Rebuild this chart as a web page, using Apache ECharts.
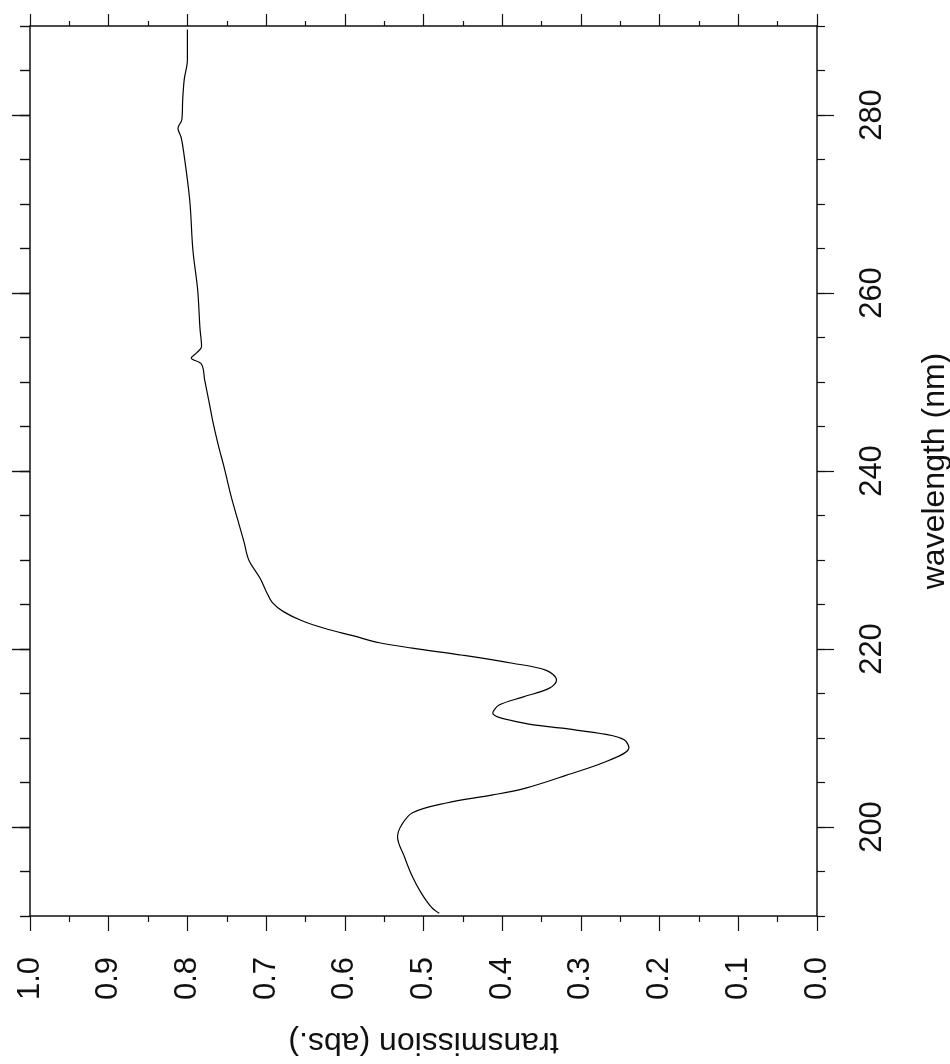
<!DOCTYPE html>
<html>
<head>
    <meta charset="utf-8">
    <title>transmission spectrum</title>
    <script src="https://cdn.jsdelivr.net/npm/echarts@6/dist/echarts.min.js"></script>
    <style>
        body { margin: 0; background: #fff; }
        #chart { width: 950px; height: 1064px; }
    </style>
</head>
<body>
<div id="chart"></div>
<script type="text/javascript">
    // wavelength (nm) and transmission (abs.)
    var wavelength = [190.3, 191, 192.6, 194.4, 196.6, 198.9, 200.2, 201.6, 202.7, 203.6,
        204.4, 205.8, 207.5, 208.9, 209.8, 210.4, 211.1, 211.7, 212.8, 213.7,
        214.6, 215.6, 216.5, 217.6, 218.4, 219.3, 220.1, 220.7, 221.5, 222.3,
        223.2, 224.2, 225.2, 226.5, 228, 230, 232, 234.5, 237, 240.3,
        243, 245.7, 248, 250.2, 252, 252.7, 253.3, 254, 256, 260.4,
        264.8, 270.4, 276, 277.5, 278.5, 279.5, 281.7, 284, 286.2, 289.6];
    var transmission = [0.48, 0.49, 0.503, 0.514, 0.524, 0.533, 0.528, 0.514, 0.471, 0.412,
        0.369, 0.319, 0.264, 0.239, 0.245, 0.268, 0.324, 0.374, 0.412, 0.404,
        0.374, 0.34, 0.331, 0.344, 0.387, 0.45, 0.514, 0.556, 0.59, 0.625,
        0.655, 0.678, 0.692, 0.7, 0.708, 0.722, 0.728, 0.736, 0.744, 0.753,
        0.761, 0.768, 0.773, 0.778, 0.782, 0.795, 0.788, 0.782, 0.784, 0.787,
        0.793, 0.797, 0.805, 0.808, 0.812, 0.807, 0.806, 0.804, 0.8, 0.8];
    var wlLabels = [200, 220, 240, 260, 280];
    var wlMinor = [190, 195, 200, 205, 210, 215, 220, 225, 230, 235, 240, 245, 250,
        255, 260, 265, 270, 275, 280, 285, 290];

    var points = [];
    for (var i = 0; i < wavelength.length; i++) {
        points.push([transmission[i], wavelength[i]]);
    }

    var ink = '#111';
    var font = 'Liberation Sans, Arial, sans-serif';

    var myChart = echarts.init(document.getElementById('chart'));
    myChart.setOption({
        animation: false,
        grid: {left: 30, right: 133, top: 26, bottom: 148, containLabel: false, outerBoundsMode: 'none'},
        xAxis: [
            {
                type: 'value', min: 0, max: 1, interval: 0.1, inverse: true, position: 'bottom',
                axisLine: {lineStyle: {color: ink, width: 1.5}},
                axisTick: {length: 15, lineStyle: {color: ink, width: 1.2}},
                minorTick: {show: true, splitNumber: 2, length: 6, lineStyle: {color: ink, width: 1.2}},
                splitLine: {show: false},
                axisLabel: {
                    rotate: 90, margin: 41, fontSize: 31, color: ink, fontFamily: font,
                    formatter: function (v) { return v.toFixed(1); }
                },
                name: 'transmission (abs.)', nameLocation: 'middle', nameRotate: 180, nameGap: 110,
                nameTextStyle: {fontSize: 32, color: ink, fontFamily: font}
            },
            {
                type: 'value', min: 0, max: 1, interval: 0.1, inverse: true, position: 'top',
                axisLine: {lineStyle: {color: ink, width: 1.5}},
                axisTick: {length: 12, lineStyle: {color: ink, width: 1.2}},
                minorTick: {show: true, splitNumber: 2, length: 5, lineStyle: {color: ink, width: 1.2}},
                splitLine: {show: false},
                axisLabel: {show: false}
            }
        ],
        yAxis: [
            {
                type: 'value', min: 190, max: 290, position: 'right',
                axisLine: {lineStyle: {color: ink, width: 1.5}},
                axisTick: {customValues: wlMinor, length: 8, lineStyle: {color: ink, width: 1.2}},
                splitLine: {show: false},
                axisLabel: {
                    customValues: wlLabels, rotate: 90, margin: 40, fontSize: 31, color: ink, fontFamily: font
                },
                name: 'wavelength (nm)', nameLocation: 'middle', nameGap: 102,
                nameTextStyle: {fontSize: 32, color: ink, fontFamily: font}
            },
            {
                type: 'value', min: 190, max: 290, position: 'right',
                axisLine: {show: false},
                axisTick: {customValues: wlLabels, length: 17, lineStyle: {color: ink, width: 1.2}},
                splitLine: {show: false},
                axisLabel: {show: false}
            },
            {
                type: 'value', min: 190, max: 290, position: 'left',
                axisLine: {lineStyle: {color: ink, width: 1.5}},
                axisTick: {customValues: wlMinor, length: 10, lineStyle: {color: ink, width: 1.4}},
                splitLine: {show: false},
                axisLabel: {show: false}
            },
            {
                type: 'value', min: 190, max: 290, position: 'left',
                axisLine: {show: false},
                axisTick: {customValues: wlLabels, length: 18, lineStyle: {color: ink, width: 1.4}},
                splitLine: {show: false},
                axisLabel: {show: false}
            }
        ],
        series: [{
            type: 'line',
            xAxisIndex: 0,
            yAxisIndex: 0,
            data: points,
            showSymbol: false,
            smooth: 0.35,
            lineStyle: {color: '#000', width: 1.2}
        }]
    });
</script>
</body>
</html>
